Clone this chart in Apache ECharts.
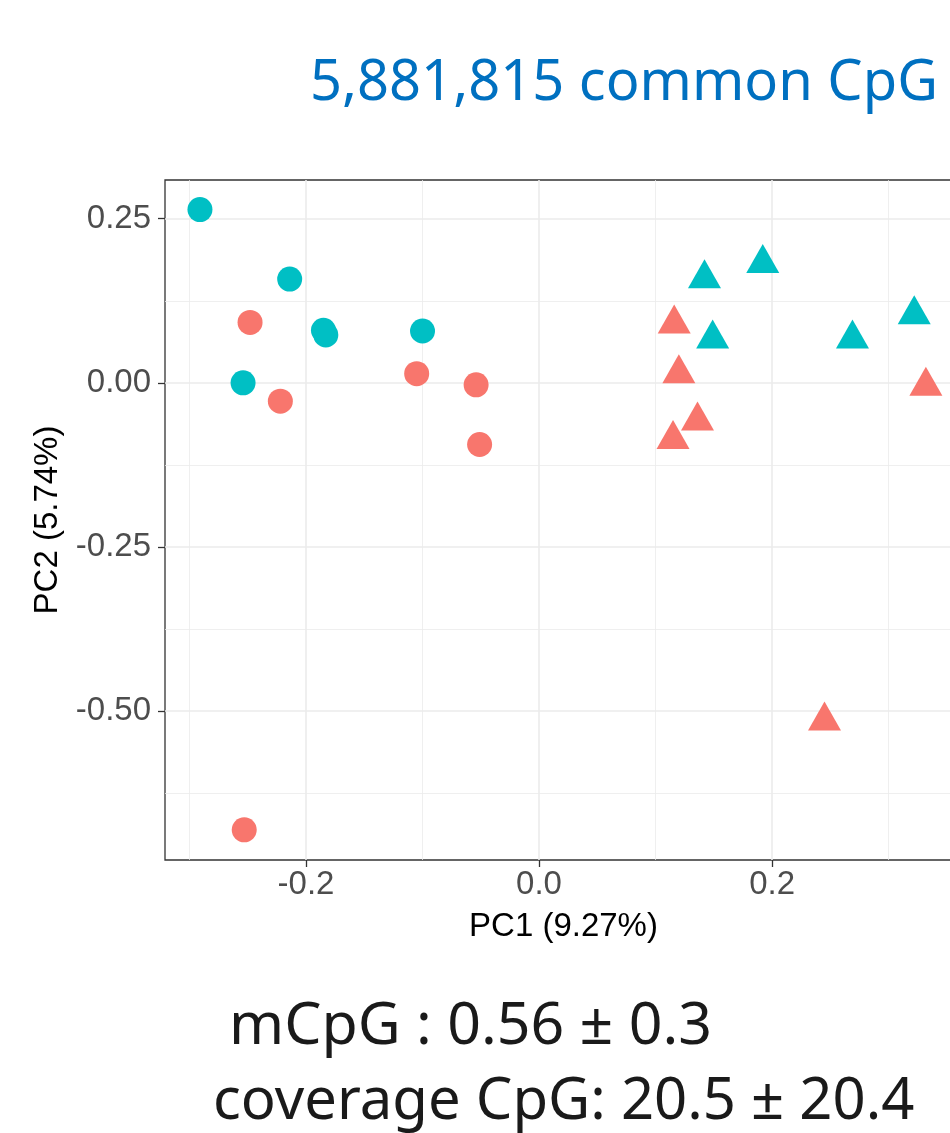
<!DOCTYPE html>
<html>
<head>
<meta charset="utf-8">
<script src="https://cdn.jsdelivr.net/npm/echarts@6/dist/echarts.min.js"></script>
<style>
    html, body { margin: 0; padding: 0; background: #fff; }
    #chart { width: 950px; height: 1133px; }
</style>
</head>
<body>
<div id="chart"></div>
<script>
// PCA 数据 [PC1, PC2]
const cyanCircles = [
    [-0.291, 0.264], [-0.214, 0.158], [-0.185, 0.080],
    [-0.183, 0.073], [-0.100, 0.079], [-0.254, 0.000]
];
const redCircles = [
    [-0.248, 0.092], [-0.222, -0.028], [-0.105, 0.014],
    [-0.054, -0.003], [-0.051, -0.094], [-0.253, -0.681]
];
const cyanTriangles = [
    [0.142, 0.159], [0.192, 0.182], [0.149, 0.067],
    [0.269, 0.067], [0.322, 0.104]
];
const redTriangles = [
    [0.116, 0.090], [0.120, 0.014], [0.136, -0.058],
    [0.115, -0.086], [0.332, -0.005], [0.245, -0.515]
];

// 坐标轴刻度
const xTicks = [-0.2, 0, 0.2];
const yTicks = [-0.5, -0.25, 0, 0.25];

const titleText = '5,881,815 common CpG';
const statLines = ['mCpG : 0.56 \u00b1 0.3', 'coverage CpG: 20.5 \u00b1 20.4'];

const CYAN = '#00BFC4';
const RED = '#F8766D';
const AXIS_FONT = '"Liberation Sans", Arial, sans-serif';
const TEXT_FONT = '"Noto Sans", "Open Sans", sans-serif';

const chart = echarts.init(document.getElementById('chart'));

function circleSeries (name, data, color) {
    return {
        name, type: 'scatter', data,
        symbol: 'circle', symbolSize: 25,
        itemStyle: { color, opacity: 1 }
    };
}

function triangleSeries (name, data, color) {
    // ggplot 的三角形以重心对齐数据点
    return {
        name, type: 'scatter', data,
        symbol: 'triangle', symbolSize: [33, 29],
        symbolOffset: [0, -4.8],
        itemStyle: { color, opacity: 1 }
    };
}

function valueAxis (min, max, step, ticks) {
    return {
        type: 'value',
        min, max,
        minInterval: step, maxInterval: step,
        axisLine: { show: false, onZero: false },
        axisTick: {
            show: true, length: 7, inside: false,
            customValues: ticks,
            lineStyle: { color: '#333', width: 1.3 }
        },
        axisLabel: {
            customValues: ticks,
            color: '#4D4D4D', fontSize: 33, fontFamily: AXIS_FONT,
            formatter: v => step === 0.25 ? v.toFixed(2) : v.toFixed(1)
        },
        splitLine: { show: true, lineStyle: { color: '#EBEBEB', width: 1.6 } },
        minorTick: { show: false, splitNumber: 2 },
        minorSplitLine: { show: true, lineStyle: { color: '#EBEBEB', width: 0.8 } },
        nameTextStyle: { color: '#000', fontSize: 33, fontFamily: AXIS_FONT },
        nameLocation: 'middle'
    };
}

const xAxis = valueAxis(-0.321, 0.363, 0.2, xTicks);
xAxis.name = 'PC1 (9.27%)';
xAxis.nameGap = 50;
xAxis.axisLabel.margin = 8;

const yAxis = valueAxis(-0.727, 0.309, 0.25, yTicks);
yAxis.name = 'PC2 (5.74%)';
yAxis.nameGap = 99;
yAxis.axisLabel.margin = 14;

chart.setOption({
    animation: false,
    backgroundColor: '#fff',
    grid: {
        left: 165, top: 180, width: 797, height: 680,
        outerBoundsMode: 'none',
        show: true, borderColor: '#333', borderWidth: 1.3,
        backgroundColor: 'transparent'
    },
    xAxis,
    yAxis,
    series: [
        circleSeries('cyan circle', cyanCircles, CYAN),
        circleSeries('red circle', redCircles, RED),
        triangleSeries('cyan triangle', cyanTriangles, CYAN),
        triangleSeries('red triangle', redTriangles, RED)
    ],
    graphic: [
        {
            type: 'text', left: 310, top: 56,
            style: { text: titleText, fill: '#0070C0', font: '56px ' + TEXT_FONT }
        },
        {
            type: 'text', left: 229, top: 998,
            style: { text: statLines[0], fill: '#1A1A1A', font: '59px ' + TEXT_FONT }
        },
        {
            type: 'text', left: 213, top: 1073,
            style: { text: statLines[1], fill: '#1A1A1A', font: '58px ' + TEXT_FONT }
        }
    ]
});
</script>
</body>
</html>
